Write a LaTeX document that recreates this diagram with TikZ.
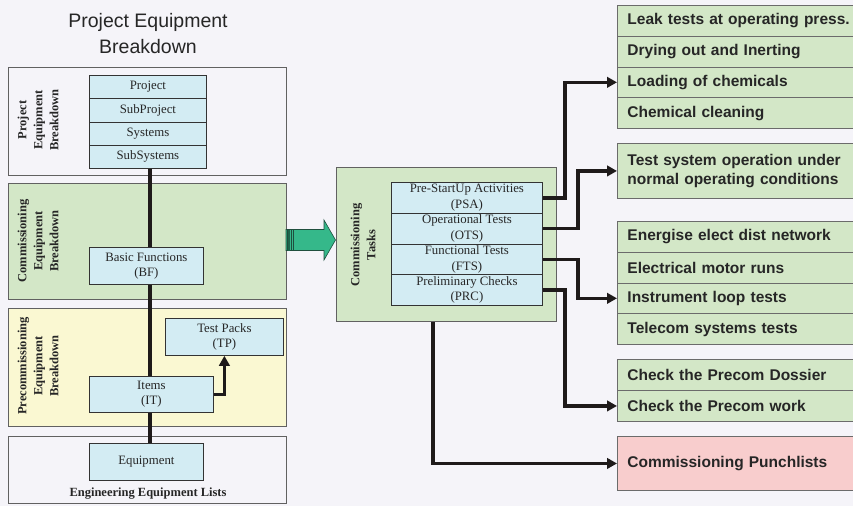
\documentclass[tikz,border=0pt]{standalone}
\usepackage{fontspec}
\setmainfont{Liberation Serif}
\setsansfont{Liberation Sans}
\usetikzlibrary{arrows.meta}

\definecolor{bgc}{HTML}{F5F4F9}
\definecolor{cellblue}{HTML}{D3ECF3}
\definecolor{boxgreen}{HTML}{D3E7C7}
\definecolor{boxyellow}{HTML}{FAF8D2}
\definecolor{boxpink}{HTML}{F8CDCD}
\definecolor{arrowgreen}{HTML}{35B88A}
\definecolor{arrowedge}{HTML}{1F4F3E}
\definecolor{ink}{HTML}{1E1A1A}
\definecolor{txt}{HTML}{262626}

\tikzset{
  region/.style={draw=black!62, line width=0.9pt, anchor=north west, inner sep=0pt,
    minimum width=278pt},
  cell/.style={draw=black!80, line width=0.8pt, fill=cellblue, anchor=north west,
    inner sep=0pt, align=center, text=txt,
    font=\fontsize{12.8}{15.5}\selectfont},
  vlabel/.style={rotate=90, align=center, text=txt,
    font=\bfseries\fontsize{12.5}{16}\selectfont},
  taskrow/.style={draw=black!58, line width=0.9pt, fill=boxgreen, anchor=north west,
    inner xsep=10pt, inner ysep=0pt, text width=240pt, align=left, text=txt,
    font=\sffamily\bfseries\fontsize{15.5}{19}\selectfont},
  conn/.style={draw=ink, line width=3.5pt},
  arr/.style={conn, -{Triangle[length=10pt,width=10.5pt]}},
}

\begin{document}
\begin{tikzpicture}[x=1pt,y=-1pt]
\useasboundingbox (0,0) rectangle (853,506);
\clip (0,0) rectangle (853,506);
\fill[bgc] (0,0) rectangle (853,506);

% helper coordinates for vertical runs
\coordinate (spine) at (150,0);
\coordinate (cx1) at (565,0);
\coordinate (cx2) at (578,0);
\coordinate (cx3) at (433,0);

% title
\node[align=center, text=txt, font=\sffamily\fontsize{19.5}{26.5}\selectfont]
  (title) at (148,33.5) {Project Equipment\\Breakdown};

% left-hand breakdown regions
\node[region, minimum height=108pt] (reg1) at (8,67) {};
\node[region, fill=boxgreen, minimum height=116pt] (reg2) at (8,183) {};
\node[region, fill=boxyellow, minimum height=118pt] (reg3) at (8,308) {};
\node[region, minimum height=67pt] (reg4) at (8,436) {};

\node[vlabel] (lab1) at (38,120) {Project\\Equipment\\Breakdown};
\node[vlabel] (lab2) at (38,241) {Commissioning\\Equipment\\Breakdown};
\node[vlabel] (lab3) at (38,366) {Precommissioning\\Equipment\\Breakdown};
\node[text=txt, font=\bfseries\fontsize{12.5}{15}\selectfont] (lab4) at (148,494)
  {Engineering Equipment Lists};

% project hierarchy stack
\node[cell, minimum width=117pt, minimum height=23.25pt] (proj) at (89,75) {Project};
\node[cell, minimum width=117pt, minimum height=23.25pt] (subp) at (89,98.25) {SubProject};
\node[cell, minimum width=117pt, minimum height=23.25pt] (sys) at (89,121.5) {Systems};
\node[cell, minimum width=117pt, minimum height=23.25pt] (subs) at (89,144.75) {SubSystems};

\node[cell, minimum width=118pt, minimum height=37pt] (tp) at (165,318) {Test Packs\\(TP)};
\node[cell, minimum width=124pt, minimum height=36pt] (items) at (89,376) {Items\\(IT)};
\node[cell, minimum width=114pt, minimum height=37pt] (equip) at (89,443) {Equipment};

% spine through the hierarchy (the BF box sits on top of it)
\draw[conn] (subs.south -| spine) -- (items.north -| spine);
\draw[conn] (items.south -| spine) -- (equip.north -| spine);
\draw[arr] (items.east) -| (tp.south);
\node[cell, minimum width=114pt, minimum height=37pt] (bf) at (89,247) {Basic Functions\\(BF)};

% commissioning tasks
\node[draw=black!62, line width=0.9pt, fill=boxgreen, anchor=north west,
  minimum width=220pt, minimum height=154pt, inner sep=0pt] (tasks) at (336,167) {};
\node[vlabel] (tasklab) at (363,245) {Commissioning\\Tasks};
\node[cell, minimum width=151pt, minimum height=30.75pt] (psa) at (391,182) {Pre-StartUp Activities\\(PSA)};
\node[cell, minimum width=151pt, minimum height=30.75pt] (ots) at (391,212.75) {Operational Tests\\(OTS)};
\node[cell, minimum width=151pt, minimum height=30.75pt] (fts) at (391,243.5) {Functional Tests\\(FTS)};
\node[cell, minimum width=151pt, minimum height=30.75pt] (prc) at (391,274.25) {Preliminary Checks\\(PRC)};

% hand-over arrow into the commissioning tasks
\filldraw[fill=arrowgreen, draw=arrowedge, line width=0.6pt]
  (286,229.5) -- (324,229.5) -- (324,220) -- (335.5,240) -- (324,260)
  -- (324,250.5) -- (286,250.5) -- cycle;
\fill[arrowgreen!55!black] (288,229.5) rectangle (290,250.5);
\draw[arrowedge, line width=0.8pt] (287,229.5) -- (287,250.5)
  (291,229.5) -- (291,250.5) (293.5,229.5) -- (293.5,250.5);

% activity lists
\node[taskrow, minimum height=30.75pt] (leak) at (617,5) {Leak tests at operating press.};
\node[taskrow, minimum height=30.75pt] (dry) at (617,35.75) {Drying out and Inerting};
\node[taskrow, minimum height=30.75pt] (load) at (617,66.5) {Loading of chemicals};
\node[taskrow, minimum height=30.75pt] (clean) at (617,97.25) {Chemical cleaning};

\node[taskrow, minimum height=55pt] (tso) at (617,143)
  {Test system operation under\\normal operating conditions};

\node[taskrow, minimum height=30.75pt] (ener) at (617,221) {Energise elect dist network};
\node[taskrow, minimum height=30.75pt] (motor) at (617,251.75) {Electrical motor runs};
\node[taskrow, minimum height=30.75pt] (instr) at (617,282.5) {Instrument loop tests};
\node[taskrow, minimum height=30.75pt] (tele) at (617,313.25) {Telecom systems tests};

\node[taskrow, minimum height=31pt] (dossier) at (617,359) {Check the Precom Dossier};
\node[taskrow, minimum height=31pt] (work) at (617,390) {Check the Precom work};

\node[taskrow, fill=boxpink, minimum height=54pt] (punch) at (617,436) {Commissioning Punchlists};

% task connectors
\draw[arr] (psa.east) -- (psa.east -| cx1) |- (load.west);
\draw[arr] (ots.east) -- (ots.east -| cx2) |- (tso.west);
\draw[arr] (fts.east) -- (fts.east -| cx2) |- (instr.west);
\draw[arr] (prc.east) -- (prc.east -| cx1) |- (work.west);
\draw[arr] (tasks.south -| cx3) |- (punch.west);
\end{tikzpicture}
\end{document}
